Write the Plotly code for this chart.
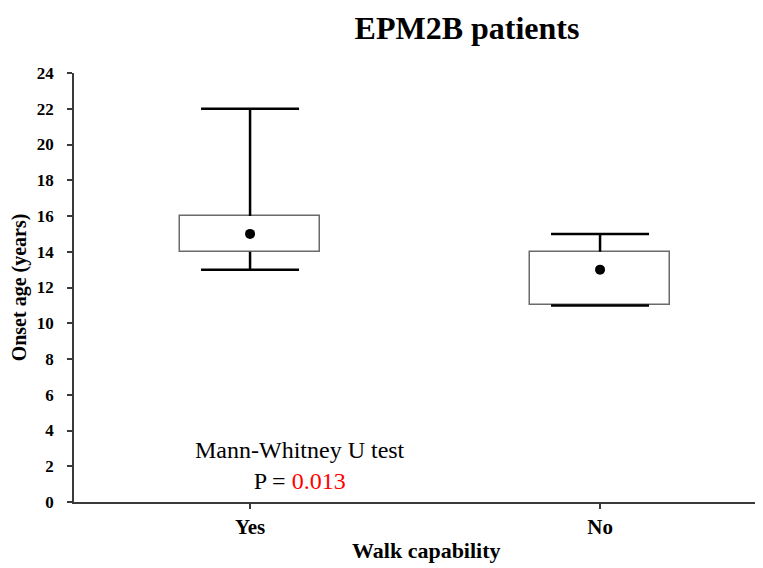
import plotly.graph_objects as go

# Onset age (years) by walk capability, EPM2B patients
categories = ["Yes", "No"]
q_min = [13, 11]
q1 = [14, 11]
median = [15, 13]
q3 = [16, 14]
q_max = [22, 15]

y_ticks = list(range(0, 25, 2))

SERIF = "Liberation Serif, Times New Roman, serif"
AXIS_COLOR = "#3a3a3a"
BOX_COLOR = "#6b6b6b"

# page body has an 8px margin, so the figure is 8px smaller than the window
W, H = 755, 560

fig = go.Figure()

# box (Q1 to Q3)
fig.add_trace(go.Bar(
    x=categories,
    y=[b - a for a, b in zip(q1, q3)],
    base=q1,
    width=0.4,
    marker=dict(color="white", line=dict(color=BOX_COLOR, width=1.5)),
    hoverinfo="skip",
    showlegend=False,
))

# whiskers: box edge to min / max
wx, wy = [], []
for c, lo, a, b, hi in zip(categories, q_min, q1, q3, q_max):
    wx += [c, c, None, c, c, None]
    wy += [b, hi, None, a, lo, None]
fig.add_trace(go.Scatter(
    x=wx, y=wy, mode="lines",
    line=dict(color="black", width=2.5),
    hoverinfo="skip", showlegend=False,
))

# whisker caps
fig.add_trace(go.Scatter(
    x=categories + categories,
    y=q_max + q_min,
    mode="markers",
    marker=dict(symbol="line-ew", size=70, line=dict(color="black", width=2.5)),
    hoverinfo="skip", showlegend=False,
))

# median dots
fig.add_trace(go.Scatter(
    x=categories, y=median, mode="markers",
    marker=dict(color="black", size=10),
    showlegend=False,
))

fig.update_layout(
    width=W, height=H,
    plot_bgcolor="white", paper_bgcolor="white",
    margin=dict(l=66, r=3, t=65, b=66),
    title=dict(
        text="EPM2B patients",
        font=dict(family=SERIF, size=32, color="black", weight="bold"),
        x=459 / W, xanchor="center", xref="container",
        y=1 - 20 / H, yanchor="middle", yref="container",
    ),
    font=dict(family=SERIF, color="black"),
    bargap=0,
    xaxis=dict(
        type="category",
        range=[-0.503, 1.457],
        showline=True, linecolor=AXIS_COLOR, linewidth=1.5,
        ticks="outside", ticklen=5, tickwidth=1.5, tickcolor=AXIS_COLOR,
        tickfont=dict(family=SERIF, size=21, color="black", weight="bold"),
        showgrid=False, zeroline=False, automargin=False,
    ),
    yaxis=dict(
        range=[0, 24],
        tickvals=y_ticks,
        showline=True, linecolor=AXIS_COLOR, linewidth=1.5,
        ticks="outside", ticklen=5, tickwidth=1.5, tickcolor=AXIS_COLOR,
        ticklabelstandoff=10,
        tickfont=dict(family=SERIF, size=17, color="black", weight="bold"),
        showgrid=False, zeroline=False, automargin=False,
        title=dict(text="Onset age (years)",
                   font=dict(family=SERIF, size=20, color="black", weight="bold"),
                   standoff=6),
    ),
    annotations=[
        dict(
            text="Walk capability",
            xref="paper", yref="paper",
            x=(426 - 74) / 686, y=-48 / 429,
            xanchor="center", yanchor="middle",
            showarrow=False,
            font=dict(family=SERIF, size=22, color="black", weight="bold"),
        ),
        dict(
            text="Mann-Whitney U test<br>P = <span style='color:#ff0000'>0.013</span>",
            xref="paper", yref="paper",
            x=(300 - 74) / 686, y=0.085,
            xanchor="center", yanchor="middle",
            showarrow=False, align="center",
            font=dict(family=SERIF, size=24, color="black"),
        ),
    ],
)

fig.write_html("out.html")
